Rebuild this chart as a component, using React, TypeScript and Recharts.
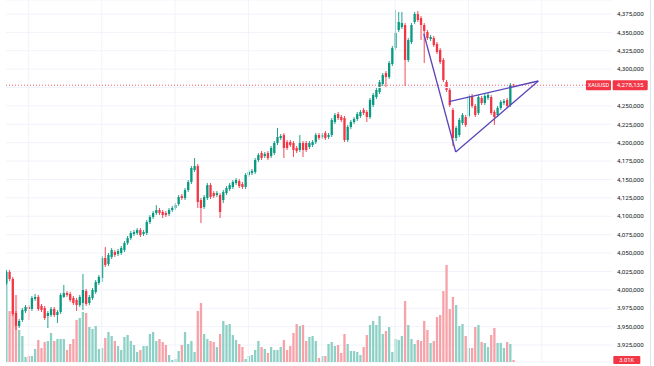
import React from "react";
import { ComposedChart, Bar, XAxis, YAxis, CartesianGrid, ReferenceLine } from "recharts";

// Hourly XAUUSD candles, prices in thousands (x1000 on the axis)
const OPEN_K = [
  4009.3, 4024.3, 4014.8, 3968.5, 3950.8, 3959.0, 3971.2, 3976.7, 3974.0, 3987.6,
  3990.3, 3978.1, 3975.3, 3964.4, 3965.8, 3974.0, 3965.8, 3969.9, 3990.3, 3995.7,
  3994.4, 3988.9, 3986.2, 3979.4, 3982.1, 3998.4, 3982.1, 3988.9, 3997.1, 4009.3,
  4016.1, 4043.3, 4035.2, 4044.6, 4051.4, 4048.7, 4050.1, 4054.1, 4063.6, 4070.4,
  4075.9, 4077.2, 4081.3, 4075.9, 4077.2, 4092.2, 4099.0, 4104.4, 4108.5, 4105.8,
  4104.4, 4103.1, 4108.5, 4111.2, 4116.7, 4127.5, 4124.8, 4135.7, 4146.6, 4162.9,
  4168.3, 4122.1, 4112.6, 4124.8, 4142.5, 4131.6, 4128.9, 4128.9, 4122.1, 4131.6,
  4137.1, 4139.8, 4145.2, 4147.9, 4143.9, 4139.8, 4156.1, 4158.8, 4160.2, 4176.5,
  4186.0, 4181.9, 4186.0, 4181.9, 4186.0, 4199.6, 4206.4, 4210.5, 4201.0, 4201.0,
  4199.6, 4192.8, 4190.1, 4199.6, 4199.6, 4194.2, 4196.9, 4201.0, 4210.5, 4207.8,
  4213.2, 4207.8, 4210.5, 4228.2, 4239.0, 4234.9, 4233.6, 4203.7, 4221.4, 4228.2,
  4232.2, 4236.3, 4244.5, 4241.8, 4234.9, 4251.3, 4262.1, 4268.9, 4279.8, 4294.8,
  4289.3, 4307.0, 4328.7, 4353.2, 4357.3, 4360.0, 4312.4, 4336.9, 4364.1, 4375.0,
  4369.5, 4360.0, 4350.5, 4341.0, 4342.3, 4334.2, 4326.0, 4312.4, 4282.5, 4271.7,
  4244.5, 4206.4, 4210.5, 4226.8, 4234.9, 4236.3, 4263.5, 4249.9, 4240.4, 4260.8,
  4254.0, 4260.8, 4262.1, 4241.8, 4237.7, 4247.2, 4254.0, 4258.1, 4251.3, 4279.1,
];

const HIGH_K = [
  4027.0, 4027.0, 4017.5, 3971.2, 3960.4, 3975.3, 3979.4, 3979.4, 3991.6, 3994.4,
  3993.0, 3980.8, 3978.1, 3971.2, 3976.7, 3976.7, 3972.6, 3995.7, 4006.6, 3998.4,
  3997.1, 3991.6, 3988.9, 3993.0, 4021.6, 4001.2, 3993.0, 4002.5, 4013.4, 4020.2,
  4046.0, 4058.2, 4050.1, 4056.8, 4054.1, 4055.5, 4059.6, 4066.3, 4073.2, 4079.9,
  4081.3, 4084.0, 4084.0, 4081.3, 4094.9, 4101.7, 4107.1, 4115.3, 4111.2, 4108.5,
  4107.1, 4111.2, 4114.0, 4118.0, 4128.9, 4130.3, 4138.4, 4149.3, 4168.3, 4179.2,
  4171.1, 4124.8, 4128.9, 4145.2, 4145.2, 4134.3, 4134.3, 4131.6, 4135.7, 4141.1,
  4145.2, 4149.3, 4152.0, 4150.6, 4146.6, 4158.8, 4162.9, 4164.3, 4179.2, 4186.0,
  4188.7, 4187.4, 4188.7, 4195.5, 4202.3, 4220.0, 4211.8, 4213.2, 4203.7, 4203.7,
  4202.3, 4195.5, 4210.5, 4202.3, 4202.3, 4202.3, 4203.7, 4213.2, 4213.2, 4213.2,
  4215.9, 4213.2, 4233.6, 4240.4, 4241.8, 4237.7, 4236.3, 4224.1, 4230.9, 4234.9,
  4241.8, 4244.5, 4247.2, 4244.5, 4260.8, 4267.6, 4274.4, 4285.2, 4294.8, 4297.5,
  4311.1, 4331.5, 4380.4, 4377.7, 4377.7, 4362.7, 4342.3, 4362.7, 4377.7, 4379.0,
  4372.2, 4362.7, 4353.2, 4346.4, 4345.1, 4336.9, 4328.7, 4315.2, 4285.2, 4274.4,
  4247.2, 4222.7, 4233.6, 4240.4, 4237.7, 4266.2, 4266.2, 4252.7, 4264.9, 4263.5,
  4266.2, 4267.6, 4264.9, 4244.5, 4249.9, 4258.1, 4259.4, 4260.8, 4281.2, 4279.8,
];

const LOW_K = [
  4006.6, 4012.0, 3964.4, 3945.4, 3948.1, 3956.3, 3968.5, 3959.0, 3971.2, 3984.8,
  3971.2, 3969.9, 3959.0, 3948.1, 3963.1, 3963.1, 3954.9, 3967.2, 3988.9, 3990.3,
  3983.5, 3979.4, 3971.2, 3976.7, 3972.6, 3978.1, 3979.4, 3986.2, 3994.4, 4006.6,
  4010.7, 4031.1, 4032.4, 4041.9, 4044.6, 4046.0, 4047.4, 4051.4, 4060.9, 4067.7,
  4073.2, 4074.5, 4071.8, 4073.2, 4074.5, 4089.5, 4096.3, 4101.7, 4101.7, 4097.6,
  4099.0, 4100.3, 4105.8, 4108.5, 4114.0, 4122.1, 4122.1, 4133.0, 4143.9, 4160.2,
  4111.2, 4090.8, 4109.9, 4122.1, 4123.5, 4124.8, 4126.2, 4097.6, 4118.0, 4128.9,
  4134.3, 4137.1, 4142.5, 4138.4, 4137.1, 4137.1, 4153.4, 4156.1, 4157.5, 4173.8,
  4176.5, 4179.2, 4176.5, 4179.2, 4183.3, 4196.9, 4203.7, 4179.2, 4190.1, 4194.2,
  4180.6, 4186.0, 4187.4, 4180.6, 4187.4, 4191.5, 4194.2, 4198.2, 4203.7, 4205.0,
  4203.7, 4205.0, 4207.8, 4225.4, 4230.9, 4228.2, 4201.0, 4201.0, 4218.6, 4225.4,
  4229.5, 4233.6, 4237.7, 4228.2, 4232.2, 4248.5, 4259.4, 4266.2, 4277.1, 4274.4,
  4286.6, 4304.3, 4326.0, 4350.5, 4354.6, 4277.1, 4309.7, 4334.2, 4361.4, 4364.1,
  4339.6, 4308.4, 4339.6, 4338.3, 4330.1, 4320.6, 4307.0, 4282.5, 4268.9, 4248.5,
  4195.5, 4202.3, 4207.8, 4224.1, 4221.4, 4233.6, 4247.2, 4234.9, 4237.7, 4251.3,
  4251.3, 4258.1, 4237.7, 4224.1, 4234.9, 4244.5, 4251.3, 4247.2, 4248.5, 4277.1,
];

const CLOSE_K = [
  4024.3, 4014.8, 3967.2, 3950.8, 3957.6, 3972.6, 3976.7, 3974.0, 3988.9, 3990.3,
  3974.0, 3972.6, 3961.7, 3968.5, 3974.0, 3965.8, 3969.9, 3993.0, 3995.7, 3993.0,
  3986.2, 3982.1, 3979.4, 3990.3, 3999.8, 3980.8, 3990.3, 3999.8, 4010.7, 4017.5,
  4043.3, 4033.8, 4047.4, 4054.1, 4047.4, 4052.8, 4056.8, 4063.6, 4070.4, 4077.2,
  4078.6, 4081.3, 4074.5, 4078.6, 4092.2, 4099.0, 4104.4, 4108.5, 4104.4, 4101.7,
  4101.7, 4108.5, 4111.2, 4115.3, 4126.2, 4124.8, 4135.7, 4146.6, 4165.6, 4168.3,
  4119.4, 4111.2, 4126.2, 4142.5, 4126.2, 4127.5, 4131.6, 4105.8, 4133.0, 4138.4,
  4142.5, 4146.6, 4149.3, 4141.1, 4139.8, 4156.1, 4160.2, 4161.5, 4176.5, 4183.3,
  4179.2, 4184.7, 4179.2, 4192.8, 4199.6, 4207.8, 4209.1, 4192.8, 4192.8, 4196.9,
  4190.1, 4188.7, 4199.6, 4190.1, 4190.1, 4199.6, 4201.0, 4210.5, 4206.4, 4210.5,
  4206.4, 4210.5, 4230.9, 4237.7, 4233.6, 4230.9, 4203.7, 4221.4, 4228.2, 4232.2,
  4239.0, 4241.8, 4240.4, 4234.9, 4258.1, 4264.9, 4271.7, 4282.5, 4292.0, 4289.3,
  4308.4, 4328.7, 4349.1, 4364.1, 4362.7, 4312.4, 4339.6, 4360.0, 4375.0, 4366.8,
  4360.0, 4351.9, 4342.3, 4343.7, 4332.8, 4323.3, 4309.7, 4285.2, 4271.7, 4251.3,
  4206.4, 4220.0, 4230.9, 4237.7, 4224.1, 4263.5, 4249.9, 4237.7, 4262.1, 4254.0,
  4263.5, 4264.9, 4240.4, 4234.9, 4247.2, 4255.4, 4256.7, 4249.9, 4278.5, 4278.135,
];

// Volume in K
const VOLUME_K = [
  120, 76.5, 76.5, 100.5, 48, 39, 7.5, 9, 9, 19.5,
  33, 21, 30, 31.5, 43.5, 31.5, 34.5, 34.5, 34.5, 18,
  27, 34.5, 63, 66, 75, 73.5, 52.5, 49.5, 54, 19.5,
  21, 36, 45, 39, 31.5, 24, 18, 37.5, 40.5, 31.5,
  25.5, 15, 18, 24, 24, 42, 45, 31.5, 34.5, 30,
  25.5, 10.5, 3, 4.5, 16.5, 25.5, 45, 27, 31.5, 15,
  76.5, 88.5, 42, 34.5, 31.5, 30, 22.5, 42, 61.5, 55.5,
  57, 40.5, 33, 27, 22.5, 4.5, 9, 10.5, 18, 31.5,
  22.5, 19.5, 13.5, 22.5, 18, 18, 22.5, 33, 18, 24,
  43.5, 57, 54, 55.5, 31.5, 37.5, 39, 31.5, 6, 9,
  9, 27, 30, 24, 25.5, 13.5, 42, 27, 16.5, 16.5,
  15, 10.5, 22.5, 40.5, 55.5, 61.5, 55.5, 69, 42, 46.5,
  52.5, 15, 34.5, 33, 39, 91.5, 55.5, 34.5, 27, 33,
  31.5, 61.5, 48, 28.5, 31.5, 67.5, 70.5, 106.5, 145.5, 79.5,
  97.5, 85.5, 54, 57, 39, 21, 21, 52.5, 55.5, 30,
  28.5, 22.5, 40.5, 51, 28.5, 28.5, 21, 30, 27, 3.01,
];

// Axis labels shown (4,275,000 is hidden behind the last-price tag)
const Y_TICKS = [
  3925000, 3950000, 3975000, 4000000, 4025000, 4050000, 4075000, 4100000,
  4125000, 4150000, 4175000, 4200000, 4225000, 4250000, 4300000,
  4325000, 4350000, 4375000,
];
const HIDDEN_GRID_TICK = 4275000;
const DAY_STARTS = [7, 30, 53, 76, 99, 122, 145, 168];
const SYMBOL = "XAUUSD";
const LAST_PRICE = 4278135;
const LAST_VOLUME_LABEL = "3.01K";
const LAST_VOLUME = 3.01;

// Triangle drawing (bar index, price)
const TRIANGLE = [
  { x1: 131.0, y1: 4348100, x2: 141.0, y2: 4187400 },
  { x1: 141.0, y1: 4187400, x2: 166.9, y2: 4283900 },
  { x1: 138.9, y1: 4255800, x2: 166.9, y2: 4283900 },
];

const UP = "#089981";
const DOWN = "#f23645";
const UP_VOL = "#8dd0c5";
const DOWN_VOL = "#f7a2a8";
const GRID = "#f0f3fa";
const FONT = "Roboto, 'Liberation Sans', sans-serif";

const rows = OPEN_K.map((o, i) => ({
  k: i,
  open: o * 1000,
  high: HIGH_K[i] * 1000,
  low: LOW_K[i] * 1000,
  close: CLOSE_K[i] * 1000,
  vol: VOLUME_K[i],
}));

const BODY_W = 2.3;

function CandleShape(props: any) {
  const { x, y, width, height, payload } = props;
  if (!payload || x == null || y == null) return null;
  const cx = x + width / 2;
  const top = Math.min(y, y + height);
  const bottom = Math.max(y, y + height);
  const span = payload.high - payload.low;
  const pxPer = span > 0 ? (bottom - top) / span : 0;
  const yOf = (v: number) => top + (payload.high - v) * pxPer;
  const up = payload.close >= payload.open;
  const color = up ? UP : DOWN;
  const yo = yOf(payload.open);
  const yc = yOf(payload.close);
  const bTop = Math.min(yo, yc);
  const bH = Math.max(Math.abs(yo - yc), 0.8);
  return (
    <g>
      <line x1={cx} x2={cx} y1={top} y2={bottom} stroke={color} strokeWidth={0.9} />
      <rect x={cx - BODY_W / 2} y={bTop} width={BODY_W} height={bH} fill={color} />
    </g>
  );
}

function VolumeShape(props: any) {
  const { x, y, width, height, payload } = props;
  if (!payload || x == null || y == null) return null;
  const cx = x + width / 2;
  const top = Math.min(y, y + height);
  const h = Math.abs(height);
  const up = payload.close >= payload.open;
  return <rect x={cx - BODY_W / 2} y={top} width={BODY_W} height={h} fill={up ? UP_VOL : DOWN_VOL} />;
}

function LastPriceShape(props: any) {
  const { x1, y1, x2 } = props;
  if (x1 == null || y1 == null) return null;
  const left = Math.min(x1, x2);
  const right = Math.max(x1, x2);
  const label = LAST_PRICE.toLocaleString("en-US");
  return (
    <g>
      <line x1={left} x2={right - 26} y1={y1} y2={y1} stroke={DOWN} strokeWidth={0.8} strokeDasharray="1 2" />
      <rect x={right - 26} y={y1 - 5} width={25} height={10} rx={1} fill={DOWN} />
      <text x={right - 13.5} y={y1} dy="0.35em" textAnchor="middle" fontSize={5.6} fontFamily={FONT} fill="#ffffff">
        {SYMBOL}
      </text>
      <rect x={right + 0.7} y={y1 - 5} width={35} height={10} rx={1} fill={DOWN} />
      <text x={right + 18.2} y={y1} dy="0.35em" textAnchor="middle" fontSize={6.2} fontFamily={FONT} fill="#ffffff">
        {label}
      </text>
    </g>
  );
}

function LastVolumeShape(props: any) {
  const { x1, x2, y1 } = props;
  if (x2 == null || y1 == null) return null;
  const right = Math.max(x1, x2);
  return (
    <g>
      <rect x={right + 1.3} y={y1 - 4} width={27} height={8} rx={1} fill={DOWN} />
      <text x={right + 14.8} y={y1} dy="0.35em" textAnchor="middle" fontSize={5.8} fontFamily={FONT} fill="#ffffff">
        {LAST_VOLUME_LABEL}
      </text>
    </g>
  );
}

export default function App() {
  return (
    <div style={{ position: "absolute", left: 0, top: 0, width: 654, height: 366, background: "#ffffff", overflow: "hidden" }}>
      <ComposedChart width={654} height={366} data={rows} margin={{ top: 0, right: 0, bottom: 4, left: 6 }}>
        <XAxis xAxisId="p" dataKey="k" type="number" domain={[0, 190]} hide allowDataOverflow />
        <XAxis xAxisId="v" dataKey="k" type="number" domain={[0, 190]} hide allowDataOverflow />
        <YAxis
          yAxisId="price"
          orientation="right"
          width={42}
          domain={[3901900, 4394000]}
          ticks={Y_TICKS}
          allowDataOverflow
          axisLine={false}
          tickLine={false}
          tickSize={0}
          tickMargin={5}
          interval={0}
          tickFormatter={(v: number) => v.toLocaleString("en-US")}
          tick={{ fontSize: 6.2, fill: "#131722", fontFamily: FONT }}
        />
        <YAxis yAxisId="vol" hide domain={[0, 543]} allowDataOverflow />
        <CartesianGrid xAxisId="p" yAxisId="price" vertical={false} stroke={GRID} strokeWidth={1} />
        <ReferenceLine xAxisId="p" yAxisId="price" y={HIDDEN_GRID_TICK} stroke={GRID} strokeWidth={1} />
        {DAY_STARTS.map((d) => (
          <ReferenceLine key={d} xAxisId="p" yAxisId="price" x={d} stroke={GRID} strokeWidth={1} />
        ))}
        <Bar
          xAxisId="v"
          yAxisId="vol"
          dataKey="vol"
          barSize={2}
          shape={<VolumeShape />}
          isAnimationActive={false}
        />
        <Bar
          xAxisId="p"
          yAxisId="price"
          dataKey={(d: any) => [d.low, d.high]}
          barSize={2}
          shape={<CandleShape />}
          isAnimationActive={false}
        />
        <ReferenceLine xAxisId="p" yAxisId="price" y={LAST_PRICE} shape={(p: any) => <LastPriceShape {...p} />} />
        <ReferenceLine xAxisId="v" yAxisId="vol" y={LAST_VOLUME} shape={(p: any) => <LastVolumeShape {...p} />} />
        {TRIANGLE.map((s, i) => (
          <ReferenceLine
            key={i}
            xAxisId="p"
            yAxisId="price"
            segment={[{ x: s.x1, y: s.y1 }, { x: s.x2, y: s.y2 }]}
            stroke="#5b45b9"
            strokeWidth={1.3}
          />
        ))}
      </ComposedChart>
      <div style={{ position: "absolute", left: 650, top: 0, width: 1, height: 366, background: "#e0e3eb" }} />
    </div>
  );
}
